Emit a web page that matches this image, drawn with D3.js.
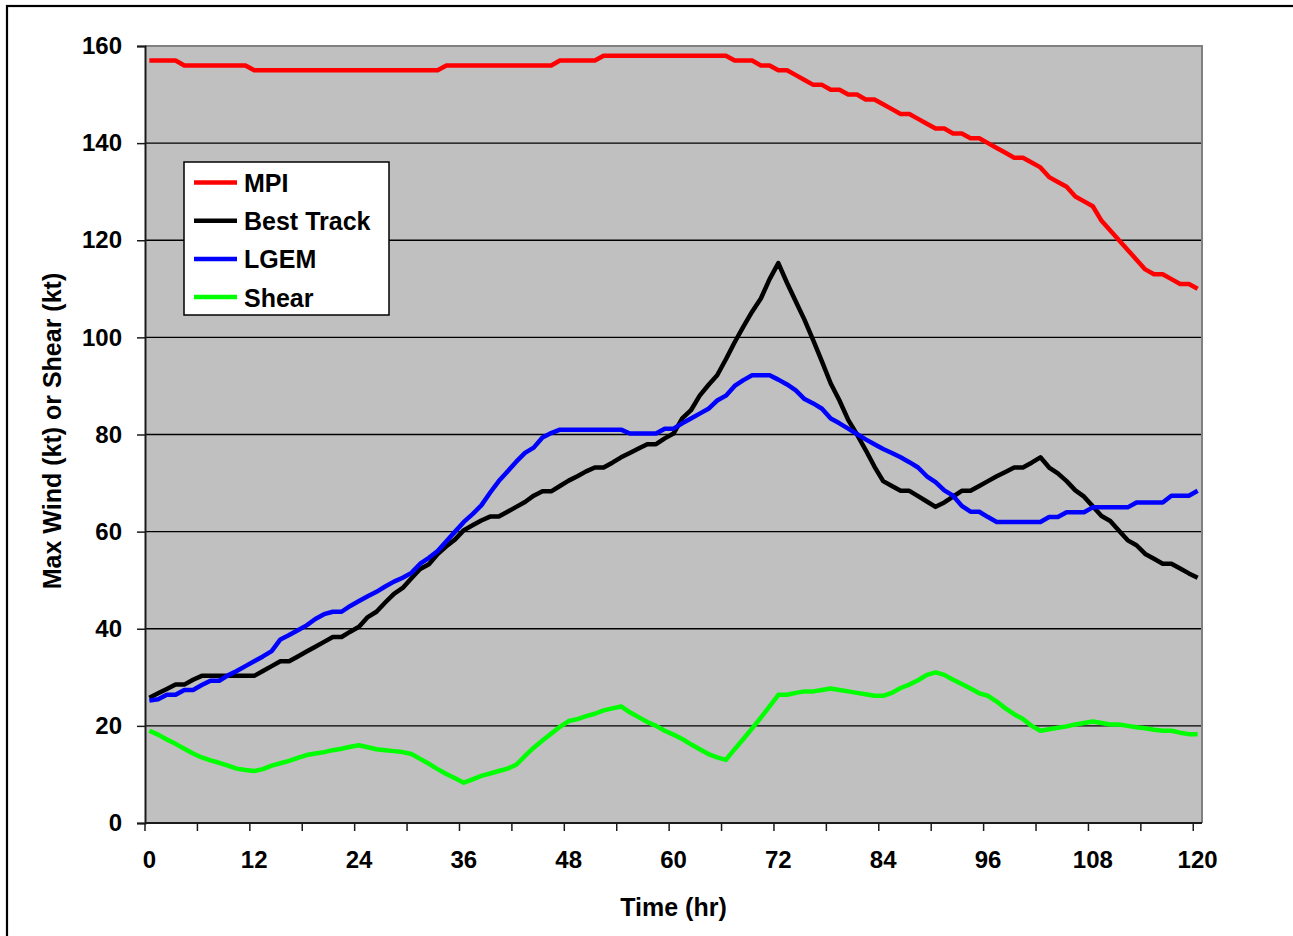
<!DOCTYPE html>
<html>
<head>
<meta charset="utf-8">
<script src="https://cdn.jsdelivr.net/npm/d3@7"></script>
<style>
  html, body { margin: 0; padding: 0; background: #fff; }
  svg { display: block; }
  text { font-family: "Liberation Sans", Arial, sans-serif; font-weight: bold; fill: #000; }
</style>
</head>
<body>
<svg id="chart" width="1293" height="936"></svg>
<script>
// Forecast hour categories (hourly, 0-120 h)
const hours = d3.range(0, 121);
const xTickLabels = [0, 12, 24, 36, 48, 60, 72, 84, 96, 108, 120];
const yTickLabels = [0, 20, 40, 60, 80, 100, 120, 140, 160];

// Maximum potential intensity (kt)
const mpi = [
  157,157,157,157,156,156,156,156,156,156,156,156,155,155,155,155,155,155,155,155,
  155,155,155,155,155,155,155,155,155,155,155,155,155,155,156,156,156,156,156,156,
  156,156,156,156,156,156,156,157,157,157,157,157,158,158,158,158,158,158,158,158,
  158,158,158,158,158,158,158,157,157,157,156,156,155,155,154,153,152,152,151,151,
  150,150,149,149,148,147,146,146,145,144,143,143,142,142,141,141,140,139,138,137,
  137,136,135,133,132,131,129,128,127,124,122,120,118,116,114,113,113,112,111,111,
  110
];

// Best track intensity (kt)
const bestTrack = [
  25.8,26.7,27.6,28.5,28.5,29.5,30.3,30.3,30.3,30.3,30.3,30.3,30.3,31.3,32.3,33.3,33.3,34.3,35.3,36.3,
  37.3,38.3,38.3,39.4,40.4,42.4,43.5,45.4,47.2,48.4,50.4,52.3,53.3,55.4,57.0,58.4,60.3,61.3,62.3,63.1,
  63.1,64.1,65.1,66.1,67.4,68.3,68.3,69.4,70.5,71.4,72.4,73.2,73.2,74.2,75.3,76.2,77.1,78.0,78.0,79.2,
  80.2,83.3,85.0,88.0,90.2,92.2,95.5,99.0,102.2,105.3,108.0,112.0,115.3,111.2,107.4,103.6,99.4,95.0,90.5,87.0,
  83.0,80.0,76.8,73.4,70.4,69.4,68.4,68.4,67.3,66.2,65.1,66.0,67.2,68.4,68.4,69.4,70.4,71.4,72.3,73.2,
  73.2,74.2,75.3,73.2,72.0,70.4,68.5,67.2,65.2,63.2,62.2,60.2,58.2,57.2,55.4,54.4,53.4,53.4,52.4,51.4,
  50.5
];

// LGEM intensity forecast (kt)
const lgem = [
  25.2,25.5,26.4,26.4,27.4,27.4,28.4,29.3,29.3,30.4,31.3,32.3,33.3,34.3,35.4,37.8,38.7,39.7,40.7,42.0,
  43.0,43.5,43.5,44.7,45.7,46.7,47.6,48.7,49.7,50.5,51.5,53.4,54.6,56.0,58.0,60.0,62.0,63.6,65.4,68.0,
  70.4,72.4,74.4,76.2,77.3,79.4,80.3,81.0,81.0,81.0,81.0,81.0,81.0,81.0,81.0,80.2,80.2,80.2,80.2,81.2,
  81.2,82.3,83.3,84.3,85.3,87.0,88.0,90.0,91.2,92.2,92.2,92.2,91.3,90.3,89.1,87.3,86.4,85.3,83.3,82.3,
  81.2,80.1,79.0,78.0,77.0,76.2,75.3,74.3,73.2,71.4,70.2,68.5,67.4,65.3,64.1,64.1,63.0,62.0,62.0,62.0,
  62.0,62.0,62.0,63.0,63.0,64.0,64.0,64.0,65.0,65.0,65.0,65.0,65.0,66.0,66.0,66.0,66.0,67.4,67.4,67.4,
  68.4
];

// Vertical wind shear (kt)
const shear = [
  19.0,18.2,17.2,16.3,15.3,14.3,13.5,12.9,12.4,11.8,11.2,10.9,10.7,11.1,11.8,12.3,12.8,13.4,14.0,14.3,
  14.6,15.0,15.3,15.7,16.0,15.6,15.2,15.0,14.8,14.6,14.2,13.2,12.2,11.1,10.1,9.2,8.3,9.0,9.7,10.2,
  10.7,11.2,12.0,13.8,15.5,17.0,18.4,19.8,21.0,21.4,22.0,22.5,23.2,23.6,24.0,22.8,21.8,20.8,20.0,19.0,
  18.2,17.3,16.2,15.2,14.2,13.5,13.0,15.2,17.3,19.5,21.7,24.0,26.4,26.4,26.8,27.1,27.1,27.4,27.7,27.4,
  27.1,26.8,26.5,26.2,26.2,26.8,27.8,28.5,29.4,30.5,31.0,30.5,29.5,28.6,27.7,26.7,26.2,25.0,23.6,22.4,
  21.4,20.0,19.0,19.3,19.6,19.9,20.3,20.6,20.9,20.6,20.3,20.3,20.0,19.7,19.5,19.2,19.0,19.0,18.6,18.3,
  18.3
];

const seriesNames = ["MPI", "Best Track", "LGEM", "Shear"];
const seriesColors = ["#FF0000", "#000000", "#0000FF", "#00FF00"];
const seriesValues = [mpi, bestTrack, lgem, shear];

const svg = d3.select("#chart");
const plot = { left: 145, right: 1202, top: 46, bottom: 823 };

// Category scale: one band per hour, points drawn at band centres
const x = d3.scaleBand().domain(hours).range([plot.left, plot.right]).padding(0);
const xc = h => x(h) + x.bandwidth() / 2;
const y = d3.scaleLinear().domain([0, 160]).range([plot.bottom, plot.top]);

// Outer chart frame
svg.append("rect")
  .attr("x", 7).attr("y", 6).attr("width", 1320).attr("height", 980)
  .attr("fill", "#fff").attr("stroke", "#000").attr("stroke-width", 2.2);

// Plot area background
svg.append("rect")
  .attr("x", plot.left).attr("y", plot.top)
  .attr("width", plot.right - plot.left).attr("height", plot.bottom - plot.top)
  .attr("fill", "#C0C0C0");

// Horizontal gridlines
svg.append("g")
  .selectAll("line")
  .data(yTickLabels.filter(v => v > 0 && v < 160))
  .join("line")
  .attr("x1", plot.left).attr("x2", plot.right)
  .attr("y1", d => y(d)).attr("y2", d => y(d))
  .attr("stroke", "#000").attr("stroke-width", 1.3);

// Plot border (top and right in grey)
svg.append("path")
  .attr("d", `M${plot.left},${plot.top}H${plot.right}V${plot.bottom}`)
  .attr("fill", "none").attr("stroke", "#808080").attr("stroke-width", 2);

// Y axis
const yAxis = d3.axisLeft(y).tickValues(yTickLabels).tickSize(8).tickPadding(15);
const gy = svg.append("g").attr("transform", `translate(${plot.left},0)`).call(yAxis);
gy.select(".domain").attr("stroke", "#1a1a1a").attr("stroke-width", 2);
gy.selectAll(".tick line").attr("stroke", "#1a1a1a").attr("stroke-width", 1.5);
gy.selectAll(".tick text")
  .style("font-family", "'Liberation Sans', Arial, sans-serif")
  .style("font-weight", "bold").style("font-size", "24px").attr("fill", "#000");

// X axis: tick marks on band boundaries every 6 h, labels every 12 h
const gx = svg.append("g").attr("transform", `translate(0,${plot.bottom})`);
gx.append("line")
  .attr("x1", plot.left).attr("x2", plot.right)
  .attr("stroke", "#1a1a1a").attr("stroke-width", 2);
gx.selectAll("line.tickmark")
  .data(hours.filter(h => h % 6 === 0))
  .join("line")
  .attr("class", "tickmark")
  .attr("x1", d => x(d)).attr("x2", d => x(d))
  .attr("y1", 0).attr("y2", 8)
  .attr("stroke", "#1a1a1a").attr("stroke-width", 1.5);
gx.selectAll("text.ticklabel")
  .data(xTickLabels)
  .join("text")
  .attr("class", "ticklabel")
  .attr("x", d => xc(d)).attr("y", 45)
  .attr("text-anchor", "middle")
  .style("font-size", "24px")
  .text(d => d);

// Axis titles
svg.append("text")
  .attr("x", (plot.left + plot.right) / 2).attr("y", 916)
  .attr("text-anchor", "middle").style("font-size", "25px")
  .text("Time (hr)");
svg.append("text")
  .attr("transform", `translate(61,431) rotate(-90)`)
  .attr("text-anchor", "middle").style("font-size", "25px")
  .text("Max Wind (kt) or Shear (kt)");

// Series lines
const line = d3.line().x((d, i) => xc(hours[i])).y(d => y(d));
svg.append("g")
  .selectAll("path")
  .data(seriesValues)
  .join("path")
  .attr("d", d => line(d))
  .attr("fill", "none")
  .attr("stroke", (d, i) => seriesColors[i])
  .attr("stroke-width", 4.5)
  .attr("stroke-linejoin", "round");

// Legend
const legend = svg.append("g").attr("transform", "translate(184,162)");
legend.append("rect")
  .attr("width", 205).attr("height", 153)
  .attr("fill", "#fff").attr("stroke", "#000").attr("stroke-width", 1.5);
const items = legend.selectAll("g.item")
  .data(seriesNames)
  .join("g")
  .attr("class", "item")
  .attr("transform", (d, i) => `translate(0,${20.5 + i * 38.2})`);
items.append("line")
  .attr("x1", 10).attr("x2", 53)
  .attr("stroke", (d, i) => seriesColors[i]).attr("stroke-width", 4.5);
items.append("text")
  .attr("x", 60).attr("y", 9.5)
  .style("font-size", "25px")
  .text(d => d);
</script>
</body>
</html>
